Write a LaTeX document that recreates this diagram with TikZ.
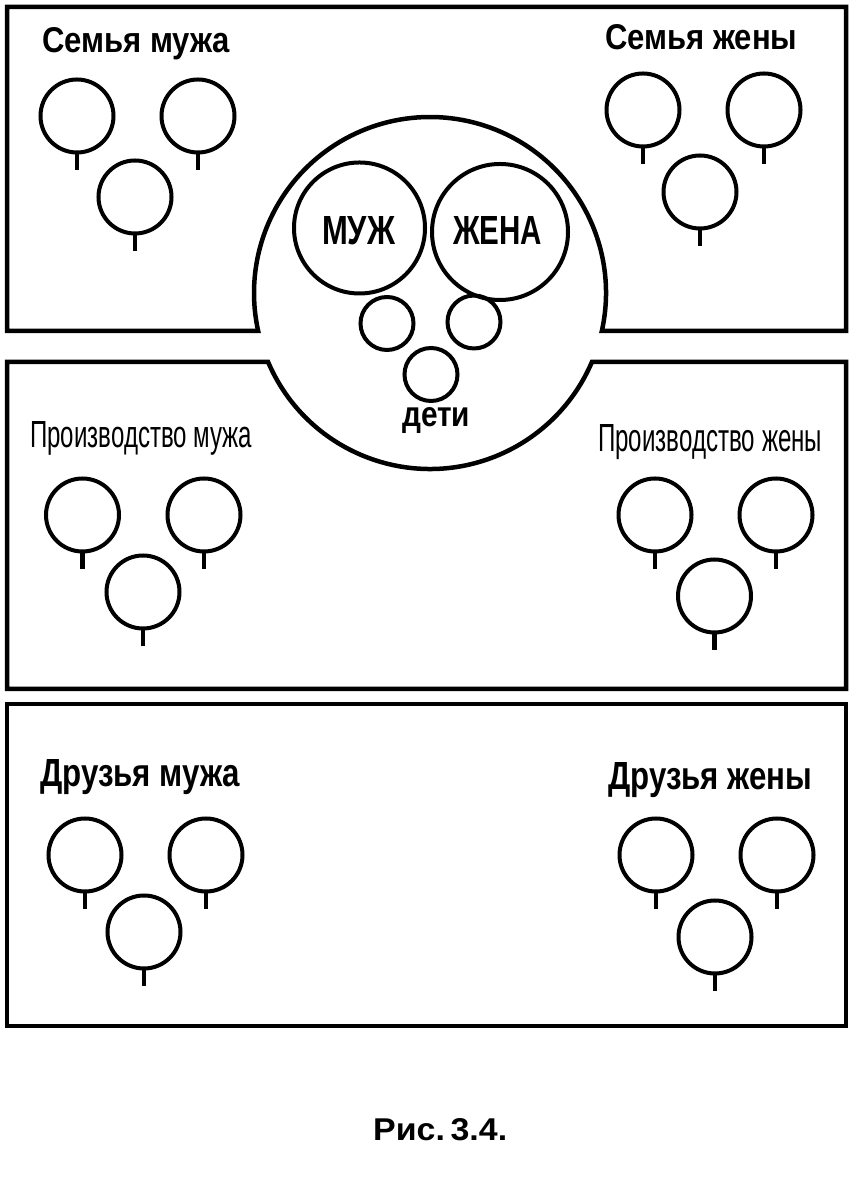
\documentclass[tikz,border=0pt]{standalone}
\usepackage{fontspec}
\setmainfont{Liberation Sans}
\usetikzlibrary{calc}
\newcommand{\fitlbl}[3]{\resizebox{#1pt}{#2pt}{#3}}
\newcommand{\mktree}[3]{%
  \node[tree] (#1) at (#2,#3) {};
  \coordinate (#1e) at ($(#1.south)+(0,-16)$);
  \draw[stem] (#1.south) -- (#1e);}
\begin{document}
\begin{tikzpicture}[x=1pt,y=1pt,
  frame/.style={draw, line width=4.5pt, line join=miter},
  tree/.style={circle, draw, line width=4pt, minimum size=73pt, inner sep=0pt},
  stem/.style={draw, line width=4.5pt},
  lbl/.style={inner sep=0pt, anchor=base west, font=\bfseries},
  thinlbl/.style={inner sep=0pt, anchor=base west, font=\mdseries},
  bigc/.style={circle, draw, line width=4pt, inner sep=0pt},
]
\useasboundingbox (0,0) rectangle (852,1180);
\coordinate (C) at (430,887);
% top box
\draw[frame] (7,849) -- (7,1173) -- (846,1173) -- (846,849) -- ($(C)+(-12.47:176)$)
  arc[start angle=-12.47, end angle=192.47, radius=176] -- cycle;
% middle box
\draw[frame] (7,818) -- ($(C)+(203.08:176)$)
  arc[start angle=203.08, end angle=336.92, radius=176] -- (846,818) -- (846,491) -- (7,491) -- cycle;
% bottom box
\draw[frame] (7,476) rectangle (846,154);

% labels
\node[lbl] (l1) at (42,1127) {\fitlbl{188}{25}{Семья мужа}};
\node[lbl] (l2) at (605,1130) {\fitlbl{192}{25}{Семья жены}};
\node[thinlbl] (l3) at (30,732) {\fitlbl{222}{26}{Производство мужа}};
\node[thinlbl] (l4) at (598,728) {\fitlbl{224}{27}{Производство жены}};
\node[lbl] (l5) at (40,393) {\fitlbl{200}{27}{Друзья мужа}};
\node[lbl] (l6) at (608,390) {\fitlbl{204}{27}{Друзья жены}};
\node[lbl] (l7) at (402,753) {\fitlbl{68}{19}{дети}};
\node[lbl] (cap) at (373,40) {\fitlbl{134}{22}{Рис.\,3.4.}};

% trees
\mktree{ta}{77}{1064}
\mktree{tb}{198}{1064}
\mktree{tc}{135}{983}
\mktree{td}{643}{1070}
\mktree{te}{764}{1070}
\mktree{tf}{700}{988}
\mktree{ma}{82.5}{665}
\mktree{mb}{204}{665}
\mktree{mc}{143}{588}
\mktree{md}{655}{665}
\mktree{me}{776}{665}
\mktree{mf}{714.5}{584}
\mktree{ba}{85}{325}
\mktree{bb}{206}{325}
\mktree{bc}{144}{248}
\mktree{bd}{656}{325}
\mktree{be}{777}{325}
\mktree{bf}{715}{243}

% centre
\node[bigc, minimum size=131pt] (muzh) at (359.5,952) {};
\node[bigc, minimum size=136pt] (zhena) at (500,948) {};
\node[lbl] (muzht) at (322,935) {\fitlbl{73}{28}{МУЖ}};
\node[lbl] (zhenat) at (453,935) {\fitlbl{89}{28}{ЖЕНА}};
\node[bigc, minimum size=53pt] (k1) at (387,856.5) {};
\node[bigc, minimum size=53pt] (k2) at (474,858) {};
\node[bigc, minimum size=53pt] (k3) at (431,805.5) {};
\end{tikzpicture}
\end{document}
